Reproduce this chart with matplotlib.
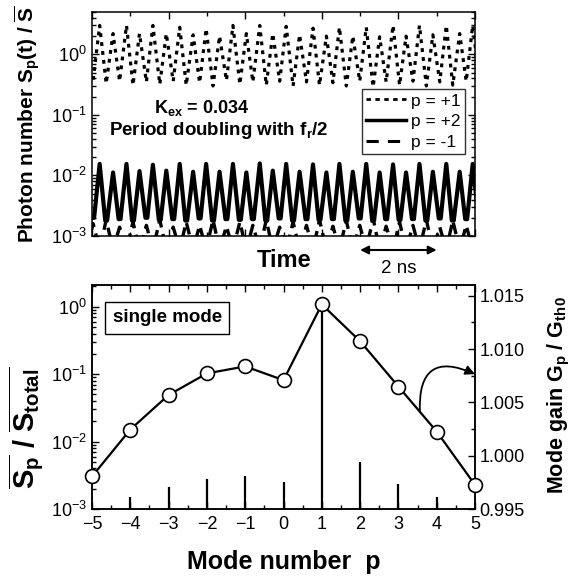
import numpy as np
import matplotlib
matplotlib.use('Agg')
import matplotlib.pyplot as plt
from matplotlib.ticker import LogLocator, MultipleLocator, FormatStrFormatter, NullFormatter
from matplotlib.lines import Line2D

plt.rcParams['font.family'] = ['Liberation Sans', 'DejaVu Sans']
plt.rcParams['mathtext.fontset'] = 'custom'
plt.rcParams['mathtext.rm'] = 'Liberation Sans'
plt.rcParams['mathtext.bf'] = 'Liberation Sans:bold'
plt.rcParams['mathtext.it'] = 'Liberation Sans:italic'

# ---------------- top panel data (time in ns) ----------------
peak_times = [0.20, 0.55, 0.90, 1.24, 1.59, 1.94, 2.29, 2.64, 2.98, 3.33,
              3.68, 4.03, 4.38, 4.72, 5.07, 5.42, 5.77, 6.12, 6.46, 6.81,
              7.16, 7.51, 7.86, 8.20, 8.55, 8.90, 9.25, 9.60, 9.94]
trough_times = [0.03, 0.37, 0.72, 1.07, 1.42, 1.77, 2.12, 2.46, 2.81, 3.16,
                3.51, 3.86, 4.20, 4.55, 4.90, 5.25, 5.60, 5.94, 6.29, 6.64,
                6.99, 7.34, 7.68, 8.03, 8.38, 8.73, 9.08, 9.42, 9.77, 10.12]

# p = +1 (dotted)
p1_peak = [3.0, 2.2, 3.0, 2.2, 3.0, 2.2, 2.8, 2.1, 2.65, 2.0,
           3.0, 2.2, 3.0, 2.2, 2.9, 2.1, 2.7, 2.0, 2.8, 2.0,
           2.8, 1.95, 3.0, 2.0, 3.0, 2.1, 3.0, 2.2, 3.0]
p1_trough = [0.38, 0.33, 0.36, 0.31, 0.35, 0.32, 0.36, 0.31, 0.34, 0.30,
             0.37, 0.32, 0.35, 0.31, 0.36, 0.30, 0.35, 0.31, 0.34, 0.30,
             0.36, 0.29, 0.35, 0.31, 0.36, 0.30, 0.35, 0.31, 0.36, 0.33]
# p = +2 (solid)
p2_peak = [1.55e-2, 1.12e-2, 1.55e-2, 1.18e-2, 1.50e-2, 1.20e-2, 1.55e-2, 1.15e-2, 1.55e-2, 1.15e-2,
           1.55e-2, 1.12e-2, 1.58e-2, 1.20e-2, 1.55e-2, 1.15e-2, 1.52e-2, 1.12e-2, 1.55e-2, 1.15e-2,
           1.55e-2, 1.12e-2, 1.52e-2, 1.12e-2, 1.55e-2, 1.15e-2, 1.55e-2, 1.15e-2, 1.55e-2]
p2_trough = [2.0e-3, 1.8e-3, 1.9e-3, 1.8e-3, 2.0e-3, 1.85e-3, 1.9e-3, 1.8e-3, 1.95e-3, 1.8e-3,
             1.9e-3, 1.85e-3, 1.9e-3, 1.8e-3, 1.95e-3, 1.8e-3, 1.9e-3, 1.85e-3, 1.9e-3, 1.8e-3,
             1.95e-3, 1.8e-3, 1.9e-3, 1.85e-3, 1.9e-3, 1.8e-3, 1.95e-3, 1.8e-3, 1.9e-3, 1.9e-3]
# p = -1 (dashed): maxima between the p=+2 pulses
m1_peak = [1.6e-3, 1.85e-3, 1.4e-3, 1.7e-3, 1.5e-3, 1.85e-3, 1.4e-3, 1.7e-3, 1.5e-3, 1.85e-3,
           1.45e-3, 1.7e-3, 1.5e-3, 1.85e-3, 1.4e-3, 1.7e-3, 1.5e-3, 1.85e-3, 1.45e-3, 1.8e-3,
           1.5e-3, 1.95e-3, 1.45e-3, 1.7e-3, 1.5e-3, 1.85e-3, 1.4e-3, 1.8e-3, 1.5e-3, 1.7e-3]
m1_trough = [6e-4] * 29

legend_labels = ['p = +1', 'p = +2', 'p = -1']

# ---------------- bottom panel data ----------------
modes = [-5, -4, -3, -2, -1, 0, 1, 2, 3, 4, 5]
gain = [0.99805, 1.00245, 1.00569, 1.00771, 1.00837, 1.00708,
        1.01418, 1.01073, 1.00648, 1.00226, 0.99726]
photon_fraction = [8e-4, 1.52e-3, 2.14e-3, 2.76e-3, 3.09e-3, 2.55e-3,
                   1.0, 5.05e-3, 2.35e-3, 1.49e-3, 8e-4]

W, H = 576, 581
fig = plt.figure(figsize=(W / 100, H / 100), dpi=100)

def fx(px):
    return px / W

def fy(py):
    return 1 - py / H

ax1 = fig.add_axes([fx(92), fy(236), fx(475) - fx(92), fy(12) - fy(236)])
ax2 = fig.add_axes([fx(92), fy(509), fx(475) - fx(92), fy(285) - fy(509)])

# ---- build traces
def pulse_trace(ptimes, pvals, ttimes, tvals, flat=0.0):
    t, v = [], []
    for i in range(len(ttimes)):
        if flat > 0:
            t += [ttimes[i] - flat, ttimes[i] + flat]
            v += [tvals[i], tvals[i]]
        else:
            t.append(ttimes[i]); v.append(tvals[i])
        if i < len(ptimes):
            t.append(ptimes[i]); v.append(pvals[i])
    return np.array(t), np.array(v)

t1, v1 = pulse_trace(peak_times, p1_peak, trough_times, p1_trough)
t2, v2 = pulse_trace(peak_times, p2_peak, trough_times, p2_trough, flat=0.025)
t3, v3 = pulse_trace(trough_times, m1_peak, [trough_times[0] - 0.17] + peak_times, [6e-4] + m1_trough)

ax1.plot(t1, v1, color='black', lw=2.3, linestyle=(0, (1.2, 1.6)))
ax1.plot(t2, v2, color='black', lw=3.0, solid_joinstyle='round')
ax1.plot(t3, v3, color='black', lw=2.4, linestyle=(0, (3.5, 2.0)))

ax1.set_yscale('log')
ax1.set_ylim(1e-3, 5.0)
ax1.set_xlim(0, 10)
ax1.xaxis.set_major_locator(MultipleLocator(2))
ax1.xaxis.set_minor_locator(MultipleLocator(1))
ax1.xaxis.set_major_formatter(NullFormatter())
ax1.yaxis.set_major_locator(LogLocator(base=10, numticks=10))
ax1.yaxis.set_minor_locator(LogLocator(base=10, subs=np.arange(2, 10), numticks=10))
ax1.yaxis.set_minor_formatter(NullFormatter())
ax1.tick_params(which='both', direction='in', top=True, right=True, width=1.0)
ax1.tick_params(which='major', length=5, labelsize=13)
ax1.tick_params(which='minor', length=3)
for s in ax1.spines.values():
    s.set_linewidth(1.1)

handles = [Line2D([], [], color='black', lw=2.0, linestyle=(0, (1.6, 1.6))),
           Line2D([], [], color='black', lw=2.5),
           Line2D([], [], color='black', lw=2.2, linestyle=(0, (4.0, 3.0)))]
leg = ax1.legend(handles, legend_labels, loc='upper right', bbox_to_anchor=(0.974, 0.656),
                 borderaxespad=0, frameon=True, fancybox=False, fontsize=12.5,
                 handlelength=2.3, handletextpad=0.3, labelspacing=0.32,
                 borderpad=0.25, edgecolor='black')
leg.get_frame().set_linewidth(1.0)

ax1.text(0.287, 0.572, r'K$_{\mathbf{ex}}$ = 0.034', transform=ax1.transAxes,
         ha='center', va='center', fontsize=13, fontweight='bold')
ax1.text(0.331, 0.472, r'Period doubling with f$_{\mathbf{r}}$/2', transform=ax1.transAxes,
         ha='center', va='center', fontsize=13.5, fontweight='bold')

# time-scale arrow
ax1.annotate('', xy=(9.0, -0.0625), xytext=(7.0, -0.0625),
             xycoords=('data', 'axes fraction'), textcoords=('data', 'axes fraction'),
             arrowprops=dict(arrowstyle='<|-|>', color='black', lw=1.5,
                             mutation_scale=12, shrinkA=0, shrinkB=0),
             annotation_clip=False)
ax1.text(8.0, -0.145, '2 ns', transform=ax1.get_xaxis_transform(),
         ha='center', va='center', fontsize=13.5)

fig.text(fx(284), fy(260), 'Time', ha='center', va='center', fontsize=17, fontweight='bold')
fig.text(fx(27), fy(124), r'Photon number S$_{\mathbf{p}}$(t) / $\overline{\mathbf{S}}$',
         ha='center', va='center', rotation=90, fontsize=15, fontweight='bold')

# ---- bottom panel
ax2.vlines(modes, 1e-4, photon_fraction, color='black', lw=1.6)
ax2.set_yscale('log')
ax2.set_ylim(1e-3, 2.1)
ax2.set_xlim(-5, 5)
ax2.xaxis.set_major_locator(MultipleLocator(1))
ax2.xaxis.set_minor_locator(MultipleLocator(0.5))
ax2.yaxis.set_major_locator(LogLocator(base=10, numticks=10))
ax2.yaxis.set_minor_locator(LogLocator(base=10, subs=np.arange(2, 10), numticks=10))
ax2.yaxis.set_minor_formatter(NullFormatter())
ax2.tick_params(which='both', direction='in', top=True, right=False, width=1.0)
ax2.tick_params(which='major', length=5, labelsize=13)
ax2.tick_params(axis='x', which='major', pad=5)
ax2.tick_params(which='minor', length=3)
for s in ax2.spines.values():
    s.set_linewidth(1.1)

ax3 = ax2.twinx()
ax3.plot(modes, gain, color='black', lw=1.6, marker='o', markersize=10,
         markerfacecolor='white', markeredgecolor='black', markeredgewidth=1.2,
         clip_on=False, zorder=5)
ax3.set_ylim(0.995, 1.016)
ax3.yaxis.set_major_locator(MultipleLocator(0.005))
ax3.yaxis.set_minor_locator(MultipleLocator(0.0025))
ax3.yaxis.set_major_formatter(FormatStrFormatter('%.3f'))
ax3.tick_params(which='both', direction='in', width=1.0)
ax3.tick_params(which='major', length=5, labelsize=13, pad=3)
ax3.tick_params(which='minor', length=3)
for s in ax3.spines.values():
    s.set_linewidth(1.1)

ax3.annotate('', xy=(5.0, 1.00764), xytext=(3.56, 1.00415),
             arrowprops=dict(arrowstyle='-|>', color='black', lw=1.3,
                             connectionstyle='arc3,rad=-0.8', mutation_scale=14,
                             shrinkA=0, shrinkB=0),
             annotation_clip=False)

ax2.text(0.196, 0.853, 'single mode', transform=ax2.transAxes, ha='center', va='center',
         fontsize=13.5, fontweight='bold',
         bbox=dict(boxstyle='square,pad=0.4', facecolor='white', edgecolor='black', lw=1.0))

fig.text(fx(284), fy(562), 'Mode number  p', ha='center', va='center',
         fontsize=18, fontweight='bold')
fig.text(fx(26), fy(428),
         r'$\overline{\mathbf{S}_{\mathbf{p}}}\ \mathbf{/}\ \overline{\mathbf{S}_{\mathbf{total}}}$',
         ha='center', va='center', rotation=90, fontsize=21)
fig.text(fx(559), fy(395), r'Mode gain G$_{\mathbf{p}}$ / G$_{\mathbf{th0}}$',
         ha='center', va='center', rotation=90, fontsize=15.5, fontweight='bold')

fig.savefig('out.png', dpi=100)
